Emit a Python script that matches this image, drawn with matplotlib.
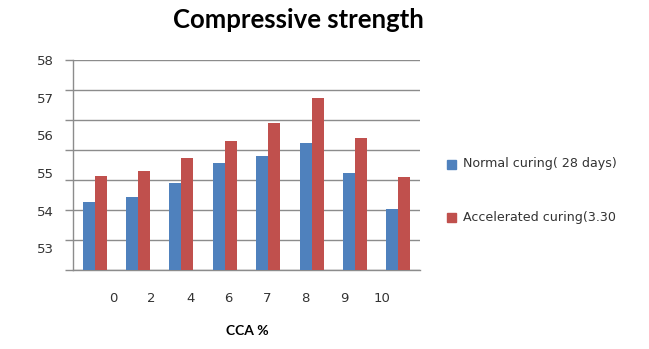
import numpy as np
import matplotlib
matplotlib.use("Agg")
import matplotlib.pyplot as plt
from matplotlib.patches import Rectangle

categories = ['0', '2', '4', '6', '7', '8', '9', '10']
normal = [54.23, 54.36, 54.74, 55.27, 55.45, 55.79, 55.00, 54.05]
accelerated = [54.92, 55.05, 55.39, 55.84, 56.32, 56.99, 55.92, 54.89]
y_labels = [53, 54, 55, 56, 57, 58]
series_names = ['Normal curing( 28 days)', 'Accelerated curing(3.30']

BLUE = '#4F81BD'
RED = '#C0504D'
GRID = '#8C8C8C'
TXT = '#333333'

fig = plt.figure(figsize=(6.49, 3.49), dpi=100)
ax = fig.add_axes([73/649, 1-270/349, 347/649, 210/349])

x = np.arange(len(categories))
w = 0.277
ax.bar(x - w/2, normal, width=w, color=BLUE, zorder=3)
ax.bar(x + w/2, accelerated, width=w, color=RED, zorder=3)

ymin, ymax = 52.42, 58.002
ax.set_xlim(-0.5, len(categories) - 0.5)
ax.set_ylim(ymin, ymax)

# gridlines (major ticks, unlabeled)
ax.set_yticks(np.linspace(ymin, ymax, 8))
ax.set_yticklabels([])
ax.yaxis.grid(True, color=GRID, linewidth=1.0, zorder=0)
ax.tick_params(axis='y', which='major', length=6, color=GRID, width=1)
# value labels (minor ticks)
ax.set_yticks(y_labels, minor=True)
ax.set_yticklabels([str(v) for v in y_labels], minor=True)
ax.tick_params(axis='y', which='minor', length=0, pad=13.5, labelsize=9.5, labelcolor=TXT)

# x labels
ax.set_xticks(np.arange(len(categories)) * 0.887 + 0.425)
ax.set_xticklabels(categories)
ax.tick_params(axis='x', length=0, pad=16, labelsize=9.5, labelcolor=TXT)

for s in ['top', 'right']:
    ax.spines[s].set_visible(False)
for s in ['left', 'bottom']:
    ax.spines[s].set_color(GRID)
    ax.spines[s].set_linewidth(1.0)

fig.text(298/649, 1-20/349, 'Compressive strength', family='Lato', weight='bold',
         fontsize=18.5, ha='center', va='center', color='black')
fig.text(247/649, 1-331/349, 'CCA %', family='Lato', weight='bold',
         fontsize=10, ha='center', va='center', color='black')

# legend
for (name, col, ypx) in [(series_names[0], BLUE, 164), (series_names[1], RED, 217)]:
    fig.patches.append(Rectangle((447/649, 1-(ypx+4.5)/349), 9/649, 9/349,
                                 transform=fig.transFigure, color=col))
    fig.text(463/649, 1-ypx/349, name, fontsize=9.1, color=TXT, ha='left', va='center')

fig.savefig('out.png', dpi=100)
